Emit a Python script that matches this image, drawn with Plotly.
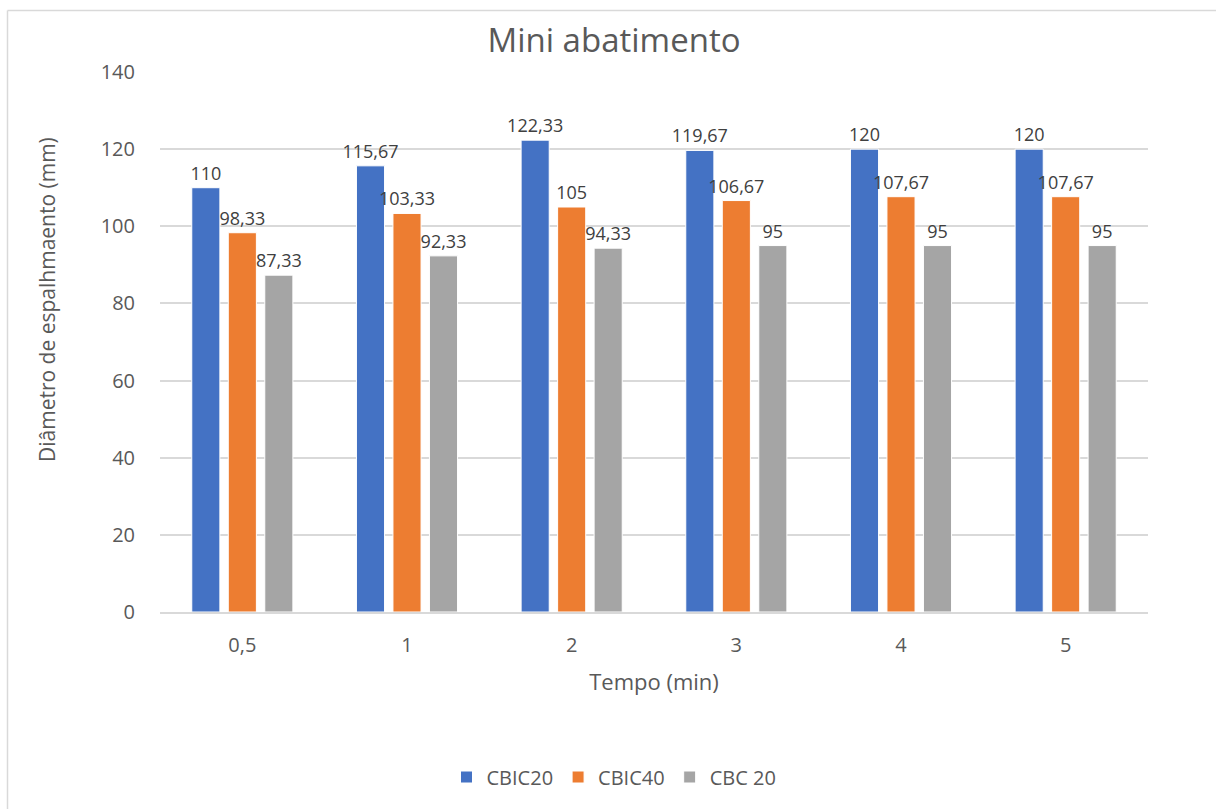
import plotly.graph_objects as go

# Spread diameter (mini slump) over time for three mixes
tempo = ["0,5", "1", "2", "3", "4", "5"]
cbic20 = [110, 115.67, 122.33, 119.67, 120, 120]
cbic40 = [98.33, 103.33, 105, 106.67, 107.67, 107.67]
cbc20 = [87.33, 92.33, 94.33, 95, 95, 95]

series = [
    ("CBIC20", cbic20, "#4472C4"),
    ("CBIC40", cbic40, "#ED7D31"),
    ("CBC 20", cbc20, "#A5A5A5"),
]

W, H = 1216, 809
L, R, T, B = 160, 68, 72, 197
PW, PH = W - L - R, H - T - B


def fmt(v):
    return f"{v:g}".replace(".", ",")


def px_x(px):
    return (px - L) / PW


def px_y(py):
    return (H - B - py) / PH


font_family = "'Open Sans', sans-serif"

fig = go.Figure()
for name, vals, color in series:
    fig.add_trace(go.Bar(
        x=tempo,
        y=vals,
        name=name,
        marker=dict(color=color, line=dict(color="white", width=1)),
        text=[fmt(v) for v in vals],
        textposition="outside",
        constraintext="none",
        textfont=dict(size=18, color="#404040", family=font_family),
        cliponaxis=False,
    ))

fig.update_layout(
    width=W,
    height=H,
    margin=dict(l=L, r=R, t=T, b=B),
    paper_bgcolor="white",
    plot_bgcolor="white",
    barmode="group",
    bargap=0.335,
    bargroupgap=0.23,
    font=dict(family=font_family, color="#595959", size=20),
    title=dict(
        text="Mini abatimento",
        x=px_x(614), xref="paper", xanchor="center",
        y=1 - 40 / H, yanchor="middle",
        font=dict(size=33, color="#595959", family=font_family),
    ),
    xaxis=dict(
        title=dict(text="Tempo (min)", font=dict(size=22, color="#595959"), standoff=18),
        showgrid=False,
        showline=True,
        linecolor="#D9D9D9",
        linewidth=1.5,
        ticks="outside",
        ticklen=14,
        tickcolor="rgba(0,0,0,0)",
        tickfont=dict(size=20, color="#595959"),
    ),
    yaxis=dict(
        range=[0, 140],
        dtick=20,
        showgrid=True,
        gridcolor="#D9D9D9",
        gridwidth=1.5,
        zeroline=False,
        ticks="outside",
        ticklen=20,
        tickcolor="rgba(0,0,0,0)",
        tickfont=dict(size=20, color="#595959"),
    ),
    annotations=[
        dict(text="Diâmetro de espalhmaento (mm)", textangle=-90,
             xref="paper", yref="paper", x=px_x(47), y=px_y(300),
             xanchor="center", yanchor="middle", showarrow=False,
             font=dict(size=21, color="#595959", family=font_family)),
    ],
    legend=dict(
        orientation="h",
        x=px_x(614), xanchor="center",
        y=px_y(777), yanchor="middle",
        font=dict(size=20, color="#595959"),
        traceorder="normal",
        itemwidth=30,
    ),
    separators=",.",
    shapes=[
        dict(type="line", xref="paper", yref="paper",
             x0=px_x(7.5), x1=px_x(1300), y0=px_y(10.5), y1=px_y(10.5),
             line=dict(color="#D9D9D9", width=1.5)),
        dict(type="line", xref="paper", yref="paper",
             x0=px_x(7.5), x1=px_x(7.5), y0=px_y(10.5), y1=px_y(900),
             line=dict(color="#D9D9D9", width=1.5)),
    ],
)

fig.write_html("out.html")
